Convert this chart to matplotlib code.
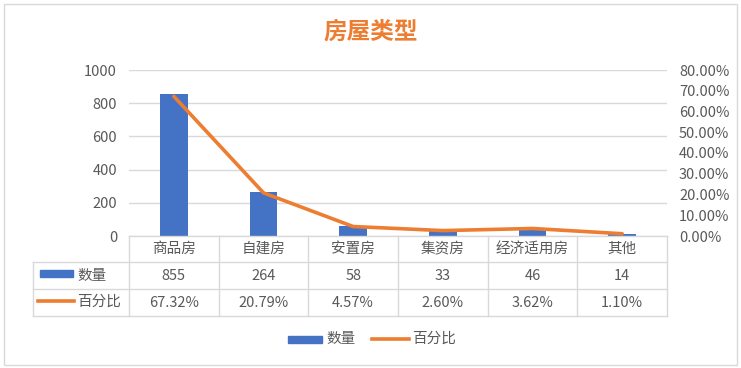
import matplotlib
matplotlib.use("Agg")
import matplotlib.pyplot as plt
import matplotlib.transforms as mtransforms
from matplotlib.lines import Line2D
from matplotlib.patches import Rectangle
from matplotlib.ticker import FuncFormatter, MultipleLocator

plt.rcParams['font.family'] = ['Noto Sans CJK SC', 'DejaVu Sans']
plt.rcParams['font.weight'] = 'light'

categories = ["商品房", "自建房", "安置房", "集资房", "经济适用房", "其他"]
counts = [855, 264, 58, 33, 46, 14]
percents = [67.32, 20.79, 4.57, 2.60, 3.62, 1.10]
title = "房屋类型"
series_names = ["数量", "百分比"]

W, H = 741, 368
fig = plt.figure(figsize=(W / 100, H / 100), dpi=100)

def fx(x):
    return x / W

def fy(y):
    return 1 - y / H

BLUE = "#4472C4"
ORANGE = "#ED7D31"
GRID = "#D9D9D9"
TXT = "#595959"
FS = 10.5

# outer border
fig.add_artist(Rectangle((fx(4), fy(365)), fx(733), 361 / H, transform=fig.transFigure,
                         fill=False, edgecolor=GRID, linewidth=1))

left, right, top, bottom = 129, 667, 70, 236
ax = fig.add_axes([fx(left), fy(bottom), fx(right - left), (bottom - top) / H])
x = list(range(len(categories)))
ax.bar(x, counts, width=0.31, color=BLUE, zorder=2)
ax.set_xlim(-0.5, len(categories) - 0.5)
ax.set_ylim(0, 1000)
ax.yaxis.set_major_locator(MultipleLocator(200))
ax.grid(axis='y', color=GRID, linewidth=1, zorder=0)
for s in ax.spines.values():
    s.set_visible(False)
ax.set_xticks([])
ax.tick_params(axis='y', length=0, labelsize=FS, labelcolor=TXT, pad=8.6)

ax2 = ax.twinx()
ax2.plot(x, [p / 100 for p in percents], color=ORANGE, linewidth=2.6, zorder=3,
         solid_capstyle='round')
ax2.set_ylim(0, 0.8)
ax2.yaxis.set_major_locator(MultipleLocator(0.1))
ax2.yaxis.set_major_formatter(FuncFormatter(lambda v, p: f"{v * 100:.2f}%"))
for s in ax2.spines.values():
    s.set_visible(False)
ax2.tick_params(axis='y', length=0, labelsize=FS, labelcolor=TXT, pad=8.6)

# data table
bt = mtransforms.blended_transform_factory(ax.transData, fig.transFigure)
row_lines = [236, 262, 289, 316]
n = len(categories)
fig.add_artist(Line2D([fx(left), fx(right)], [fy(236), fy(236)], transform=fig.transFigure,
                      color=GRID, linewidth=1))
for yy in row_lines[1:]:
    fig.add_artist(Line2D([fx(33), fx(right)], [fy(yy), fy(yy)], transform=fig.transFigure,
                          color=GRID, linewidth=1))
fig.add_artist(Line2D([fx(33), fx(33)], [fy(262), fy(316)], transform=fig.transFigure,
                      color=GRID, linewidth=1))
for i in range(n + 1):
    fig.add_artist(Line2D([i - 0.5, i - 0.5], [fy(236), fy(316)], transform=bt,
                          color=GRID, linewidth=1))

for i in range(n):
    fig.text(i, fy(249), categories[i], transform=bt, ha='center', va='center',
             fontsize=FS, color=TXT)
    fig.text(i, fy(276), f"{counts[i]}", transform=bt, ha='center', va='center',
             fontsize=FS, color=TXT)
    fig.text(i, fy(303), f"{percents[i]:.2f}%", transform=bt, ha='center', va='center',
             fontsize=FS, color=TXT)

# row headers with keys
fig.add_artist(Rectangle((fx(40), fy(276.5)), fx(33), 6.5 / H, transform=fig.transFigure,
                         color=BLUE))
fig.text(fx(77), fy(276), series_names[0], ha='left', va='center', fontsize=FS, color=TXT)
fig.add_artist(Line2D([fx(38), fx(74)], [fy(301), fy(301)], transform=fig.transFigure,
                      color=ORANGE, linewidth=2.6))
fig.text(fx(77), fy(302), series_names[1], ha='left', va='center', fontsize=FS, color=TXT)

# legend
fig.add_artist(Rectangle((fx(288), fy(342.5)), fx(34), 6.5 / H, transform=fig.transFigure,
                         color=BLUE))
fig.text(fx(326), fy(339), series_names[0], ha='left', va='center', fontsize=FS, color=TXT)
fig.add_artist(Line2D([fx(372), fx(409)], [fy(339), fy(339)], transform=fig.transFigure,
                      color=ORANGE, linewidth=2.6))
fig.text(fx(412), fy(339), series_names[1], ha='left', va='center', fontsize=FS, color=TXT)

fig.text(0.5, fy(32), title, ha='center', va='center', fontsize=17, fontweight='bold',
         color=ORANGE)

fig.savefig("out.png", dpi=100)
